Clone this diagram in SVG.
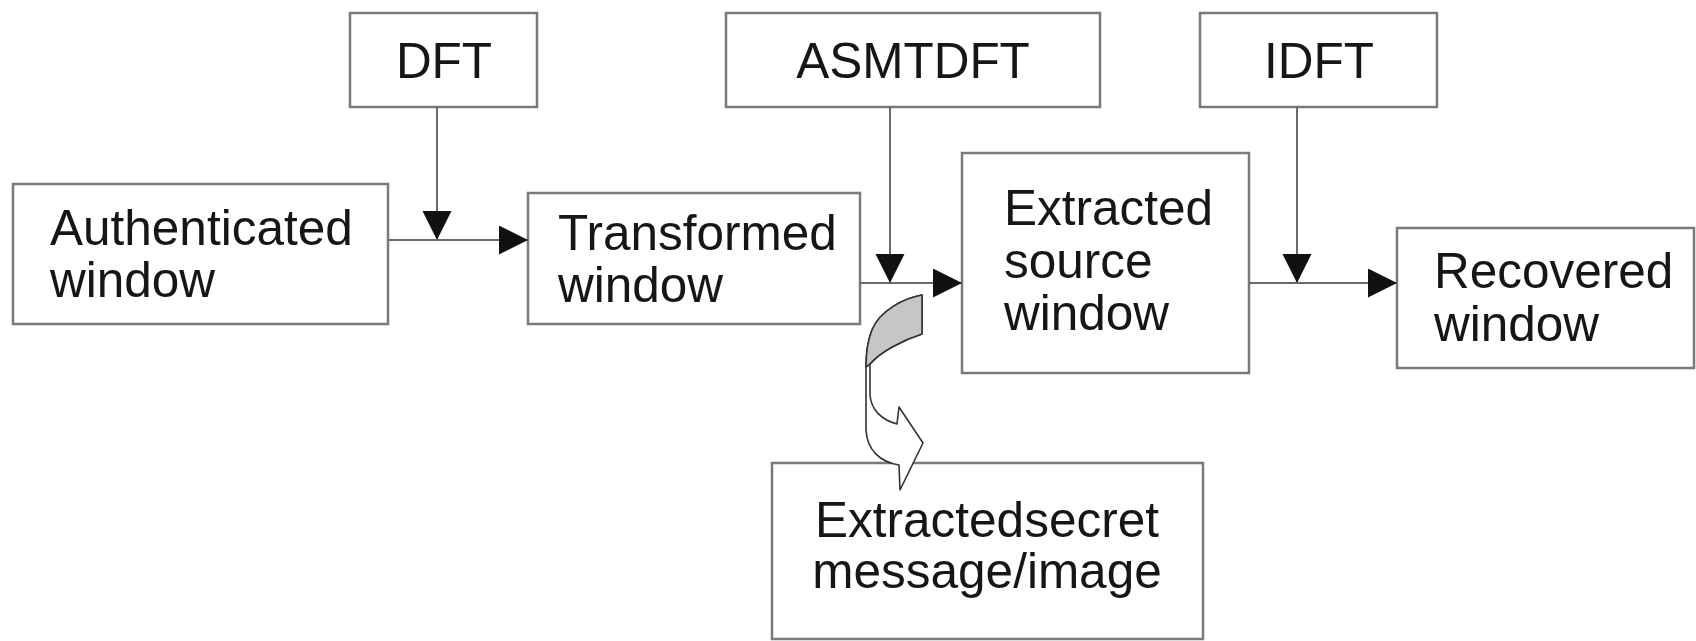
<svg xmlns="http://www.w3.org/2000/svg" width="1696" height="641" viewBox="0 0 1696 641">
  <style>
    .box { fill: #ffffff; stroke: #7a7a7a; stroke-width: 2.5; }
    .lbl { font-family: "Liberation Sans", Arial, sans-serif; font-size: 49.5px; fill: #161616; }
    .mid { text-anchor: middle; }
    .conn { fill: none; stroke: #6a6a6a; stroke-width: 2; }
  </style>
  <defs>
    <marker id="arrow" markerUnits="userSpaceOnUse" markerWidth="30" markerHeight="30" refX="29" refY="14.5" orient="auto">
      <path d="M0,0 L29,14.5 L0,29 Z" fill="#111111"/>
    </marker>
  </defs>
  <rect width="1696" height="641" fill="#ffffff"/>

  <g id="node-dft">
    <rect class="box" x="350" y="13" width="187" height="94"/>
    <text class="lbl mid" x="444" y="78">DFT</text>
  </g>
  <g id="node-asmtdft">
    <rect class="box" x="726" y="13" width="374" height="94"/>
    <text class="lbl mid" x="913" y="78">ASMTDFT</text>
  </g>
  <g id="node-idft">
    <rect class="box" x="1200" y="13" width="237" height="94"/>
    <text class="lbl mid" x="1319" y="78">IDFT</text>
  </g>
  <g id="node-authenticated">
    <rect class="box" x="13" y="184" width="375" height="140"/>
    <text class="lbl" x="50" y="245">Authenticated</text>
    <text class="lbl" x="50" y="297">window</text>
  </g>
  <g id="node-transformed">
    <rect class="box" x="528" y="193" width="332" height="131"/>
    <text class="lbl" x="558" y="250">Transformed</text>
    <text class="lbl" x="558" y="302">window</text>
  </g>
  <g id="node-extracted-source">
    <rect class="box" x="962" y="153" width="287" height="220"/>
    <text class="lbl" x="1004" y="225">Extracted</text>
    <text class="lbl" x="1004" y="278">source</text>
    <text class="lbl" x="1004" y="330">window</text>
  </g>
  <g id="node-recovered">
    <rect class="box" x="1397" y="228" width="297" height="140"/>
    <text class="lbl" x="1434" y="288">Recovered</text>
    <text class="lbl" x="1434" y="341">window</text>
  </g>
  <g id="node-secret">
    <rect class="box" x="772" y="463" width="431" height="176"/>
    <text class="lbl mid" x="987" y="537">Extractedsecret</text>
    <text class="lbl mid" x="987" y="588">message/image</text>
  </g>

  <g id="connectors">
    <line class="conn" x1="437" y1="107" x2="437" y2="240" marker-end="url(#arrow)"/>
    <line class="conn" x1="388" y1="240" x2="528" y2="240" marker-end="url(#arrow)"/>
    <line class="conn" x1="890" y1="107" x2="890" y2="283" marker-end="url(#arrow)"/>
    <line class="conn" x1="860" y1="283" x2="962" y2="283" marker-end="url(#arrow)"/>
    <line class="conn" x1="1297" y1="107" x2="1297" y2="283" marker-end="url(#arrow)"/>
    <line class="conn" x1="1249" y1="283" x2="1397" y2="283" marker-end="url(#arrow)"/>
    <g id="curved-arrow">
      <path d="M922,295 C905,298 880,310 872,330 C866,345 866,360 866,375 L866,430 C867,450 880,462 899,465 L900,490 L923,443 L899,407 L897,424 C882,420 871,410 870,395 L870,364 C880,352 903,340 922,334 Z" fill="#ffffff" stroke="#333333" stroke-width="1.6" stroke-linejoin="round"/>
      <path d="M922,295 C905,298 880,310 872,330 C866,345 866,360 866,367 L870,364 C880,352 903,340 922,334 Z" fill="#c6c6c6" stroke="#333333" stroke-width="1.6" stroke-linejoin="round"/>
    </g>
  </g>
</svg>
